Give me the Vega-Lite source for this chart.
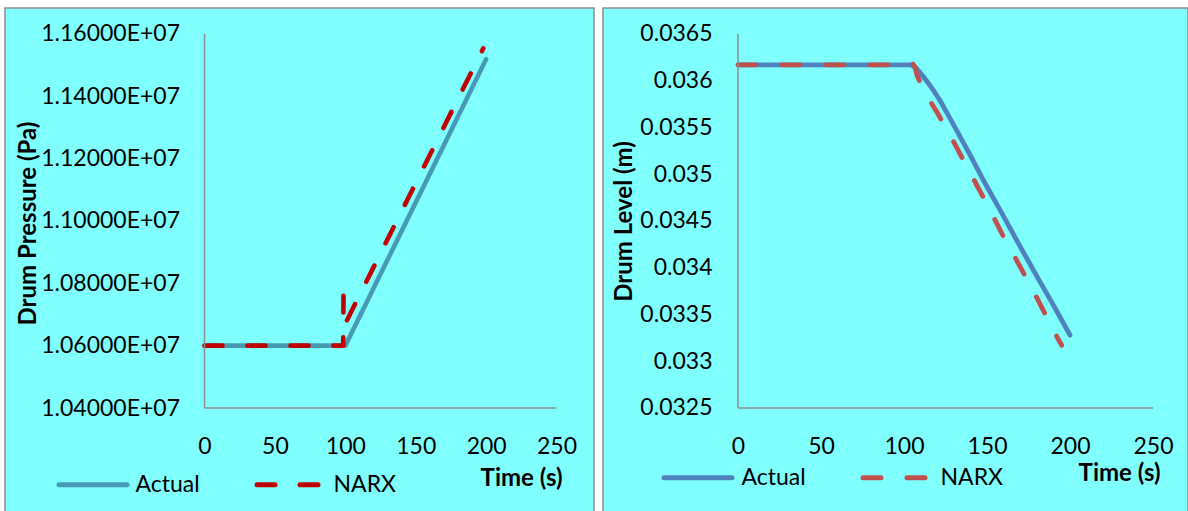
{
  "$schema": "https://vega.github.io/schema/vega-lite/v6.json",
  "background": "white",
  "padding": {"left": 4, "top": 7, "right": 0, "bottom": 0},
  "spacing": 7,
  "config": {
    "view": {"fill": "#80FFFF", "stroke": "#8C8C8C", "strokeWidth": 1.5},
    "font": "Lato",
    "axis": {"grid": false, "domain": false, "ticks": false, "tickSize": 0, "labelFont": "Lato", "labelFontSize": 23, "labelColor": "black", "titleFont": "Lato", "titleFontSize": 24, "titleFontWeight": "bold", "titleColor": "black"},
    "legend": {"labelFont": "Lato", "labelFontSize": 23, "labelColor": "black", "padding": 0}
  },
  "datasets": {
    "pressure": [
      {"t": 0, "p": 10600000, "series": "Actual"},
      {"t": 100, "p": 10600000, "series": "Actual"},
      {"t": 200, "p": 11519000, "series": "Actual"},
      {"t": 0, "p": 10600000, "series": "NARX"},
      {"t": 98.5, "p": 10600000, "series": "NARX"},
      {"t": 98.7, "p": 10760000, "series": "NARX"},
      {"t": 99.6, "p": 10686000, "series": "NARX"},
      {"t": 101, "p": 10680000, "series": "NARX"},
      {"t": 198, "p": 11554000, "series": "NARX"}
    ],
    "level": [
      {"t": 0, "h": 0.03617, "series": "Actual"},
      {"t": 104, "h": 0.03617, "series": "Actual"},
      {"t": 107, "h": 0.03614, "series": "Actual"},
      {"t": 110, "h": 0.03608, "series": "Actual"},
      {"t": 114, "h": 0.03599, "series": "Actual"},
      {"t": 118, "h": 0.03589, "series": "Actual"},
      {"t": 122, "h": 0.03578, "series": "Actual"},
      {"t": 132, "h": 0.03546, "series": "Actual"},
      {"t": 140, "h": 0.0352, "series": "Actual"},
      {"t": 148, "h": 0.03493, "series": "Actual"},
      {"t": 160, "h": 0.03455, "series": "Actual"},
      {"t": 168, "h": 0.03429, "series": "Actual"},
      {"t": 180, "h": 0.03391, "series": "Actual"},
      {"t": 190, "h": 0.0336, "series": "Actual"},
      {"t": 200, "h": 0.03328, "series": "Actual"},
      {"t": 0, "h": 0.03617, "series": "NARX"},
      {"t": 103, "h": 0.03617, "series": "NARX"},
      {"t": 105, "h": 0.03619, "series": "NARX"},
      {"t": 106.5, "h": 0.03615, "series": "NARX"},
      {"t": 108, "h": 0.03605, "series": "NARX"},
      {"t": 113, "h": 0.03586, "series": "NARX"},
      {"t": 120, "h": 0.03566, "series": "NARX"},
      {"t": 128, "h": 0.03541, "series": "NARX"},
      {"t": 140, "h": 0.03501, "series": "NARX"},
      {"t": 150, "h": 0.03468, "series": "NARX"},
      {"t": 160, "h": 0.03433, "series": "NARX"},
      {"t": 170, "h": 0.03401, "series": "NARX"},
      {"t": 180, "h": 0.03368, "series": "NARX"},
      {"t": 190, "h": 0.03333, "series": "NARX"},
      {"t": 195, "h": 0.03317, "series": "NARX"}
    ]
  },
  "hconcat": [
    {
      "width": 589,
      "height": 505,
      "layer": [
        {
          "data": {"name": "pressure"},
          "mark": {"type": "line", "strokeWidth": 4.6, "strokeCap": "round", "strokeJoin": "round"},
          "encoding": {
            "x": {"field": "t", "type": "quantitative",
              "scale": {"domain": [-141.7, 276.6], "nice": false, "zero": false},
              "axis": {"orient": "bottom", "offset": -105, "values": [0, 50, 100, 150, 200, 250], "labelPadding": 27, "title": "Time (s)", "titleX": 557, "titleY": 70, "titleAlign": "right", "titleBaseline": "middle"}},
            "y": {"field": "p", "type": "quantitative",
              "scale": {"domain": [10063102, 11683422], "nice": false, "zero": false},
              "axis": {"orient": "left", "offset": -199.5, "values": [10400000, 10600000, 10800000, 11000000, 11200000, 11400000, 11600000], "labelExpr": "format(datum.value / 10000000, '.5f') + 'E+07'", "labelPadding": 25, "title": "Drum Pressure (Pa)", "titleX": -176, "titleY": 215, "titleAlign": "center", "titleBaseline": "middle", "titleAngle": -90}},
            "color": {"field": "series", "type": "nominal",
              "scale": {"domain": ["Actual", "NARX"], "range": ["#4899B3", "#C00000"]},
              "legend": {"title": null, "orient": "none", "legendX": 51.5, "legendY": 440, "direction": "horizontal", "symbolType": "stroke", "symbolSize": 4624, "symbolStrokeWidth": 5, "labelOffset": 6, "columnPadding": 46, "encode": {"symbols": {"update": {"strokeCap": {"value": "round"}}}}}},
            "strokeDash": {"field": "series", "type": "nominal",
              "scale": {"domain": ["Actual", "NARX"], "range": [[1, 0], [18, 25]]},
              "legend": {"title": null, "orient": "none", "legendX": 51.5, "legendY": 440, "direction": "horizontal", "symbolType": "stroke", "symbolSize": 4624, "symbolStrokeWidth": 5, "labelOffset": 6, "columnPadding": 46, "encode": {"symbols": {"update": {"strokeCap": {"value": "round"}}}}}}
          }
        },
        {
          "data": {"values": [{}]},
          "mark": {"type": "rule", "color": "#8E8E8E", "strokeWidth": 1.5},
          "encoding": {
            "x": {"datum": 0, "type": "quantitative"},
            "y": {"datum": 10400000, "type": "quantitative"},
            "y2": {"datum": 11600000}
          }
        },
        {
          "data": {"values": [{}]},
          "mark": {"type": "rule", "color": "#8E8E8E", "strokeWidth": 1.5},
          "encoding": {
            "x": {"datum": 0, "type": "quantitative"},
            "x2": {"datum": 250},
            "y": {"datum": 10400000, "type": "quantitative"}
          }
        }
      ]
    },
    {
      "width": 585,
      "height": 505,
      "layer": [
        {
          "data": {"name": "level"},
          "mark": {"type": "line", "strokeWidth": 4.8, "strokeCap": "round", "strokeJoin": "round"},
          "encoding": {
            "x": {"field": "t", "type": "quantitative",
              "scale": {"domain": [-81.33, 271.08], "nice": false, "zero": false},
              "axis": {"orient": "bottom", "offset": -105, "values": [0, 50, 100, 150, 200, 250], "labelPadding": 27, "title": "Time (s)", "titleX": 557, "titleY": 65, "titleAlign": "right", "titleBaseline": "middle"}},
            "y": {"field": "h", "type": "quantitative",
              "scale": {"domain": [0.031377, 0.036778], "nice": false, "zero": false},
              "axis": {"orient": "left", "offset": -135, "values": [0.0325, 0.033, 0.0335, 0.034, 0.0345, 0.035, 0.0355, 0.036, 0.0365], "format": ".4~f", "labelPadding": 26, "title": "Drum Level (m)", "titleX": -114, "titleY": 213, "titleAlign": "center", "titleBaseline": "middle", "titleAngle": -90}},
            "color": {"field": "series", "type": "nominal",
              "scale": {"domain": ["Actual", "NARX"], "range": ["#4F81BD", "#C0504D"]},
              "legend": {"title": null, "orient": "none", "legendX": 58.5, "legendY": 433, "direction": "horizontal", "symbolType": "stroke", "symbolSize": 4624, "symbolStrokeWidth": 5, "labelOffset": 7, "columnPadding": 46, "encode": {"symbols": {"update": {"strokeCap": {"value": "round"}}}}}},
            "strokeDash": {"field": "series", "type": "nominal",
              "scale": {"domain": ["Actual", "NARX"], "range": [[1, 0], [18, 26]]},
              "legend": {"title": null, "orient": "none", "legendX": 58.5, "legendY": 433, "direction": "horizontal", "symbolType": "stroke", "symbolSize": 4624, "symbolStrokeWidth": 5, "labelOffset": 7, "columnPadding": 46, "encode": {"symbols": {"update": {"strokeCap": {"value": "round"}}}}}}
          }
        },
        {
          "data": {"values": [{}]},
          "mark": {"type": "rule", "color": "#8E8E8E", "strokeWidth": 1.5},
          "encoding": {
            "x": {"datum": 0, "type": "quantitative"},
            "y": {"datum": 0.0325, "type": "quantitative"},
            "y2": {"datum": 0.0365}
          }
        },
        {
          "data": {"values": [{}]},
          "mark": {"type": "rule", "color": "#8E8E8E", "strokeWidth": 1.5},
          "encoding": {
            "x": {"datum": 0, "type": "quantitative"},
            "x2": {"datum": 250},
            "y": {"datum": 0.0325, "type": "quantitative"}
          }
        }
      ]
    }
  ],
  "resolve": {"scale": {"color": "independent", "strokeDash": "independent", "x": "independent", "y": "independent"}, "legend": {"color": "independent", "strokeDash": "independent"}}
}
